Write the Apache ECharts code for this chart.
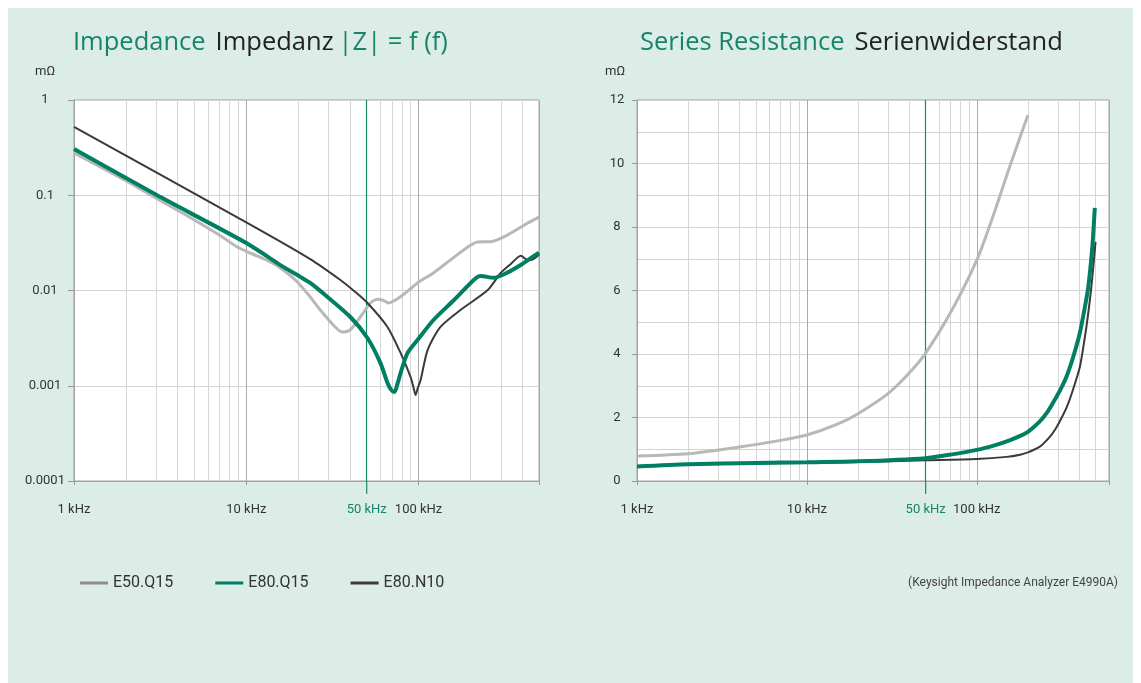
<!DOCTYPE html>
<html><head><meta charset="utf-8">
<script src="https://cdn.jsdelivr.net/npm/echarts@6/dist/echarts.min.js"></script>
<style>
html,body{margin:0;padding:0;background:#fff;}
#bg{position:absolute;left:8px;top:8px;width:1125px;height:675px;background:#dcece6;}
#chart{position:absolute;left:0;top:0;width:1141px;height:683px;}
</style></head><body>
<div id="bg"></div><div id="chart"></div>
<script>
// ---- data: [frequency kHz, value mΩ] ----
const seriesNames = ['E50.Q15', 'E80.Q15', 'E80.N10'];

const impE50Q15 = [[1,0.278],[2,0.142],[3,0.093],[5,0.055],[7,0.038],[8.87,0.0286],[10,0.0258],[11.6,0.023],[13.8,0.0199],[16.4,0.0164],[19.8,0.0123],[23.5,0.00855],[26.9,0.00624],[32,0.00434],[36,0.00367],[40,0.00385],[46,0.0053],[52.6,0.0074],[57.8,0.0081],[62,0.0079],[67,0.0074],[78.6,0.0086],[98.6,0.012],[122,0.0153],[153,0.0209],[193,0.0286],[220,0.0323],[262,0.0325],[329,0.0383],[430,0.0511],[500,0.059]];
const impE80Q15 = [[1,0.306],[3,0.101],[10,0.0315],[16.4,0.0177],[20.6,0.0139],[23.5,0.012],[29.6,0.00855],[40.2,0.00527],[50.5,0.00317],[60.1,0.00173],[66,0.00107],[69.5,0.0009],[72.5,0.00086],[75.5,0.00105],[78.6,0.00136],[86.3,0.00221],[98.6,0.00302],[122,0.0049],[160,0.0079],[209,0.0129],[229,0.0142],[273,0.0136],[329,0.0155],[400,0.019],[450,0.022],[500,0.025]];
const impE80N10 = [[1,0.521],[10,0.052],[23.5,0.0214],[35.2,0.0129],[41.9,0.01],[50.5,0.0074],[66,0.00414],[78.6,0.00221],[89.8,0.00124],[94,0.00092],[96,0.0008],[99,0.00095],[102.8,0.00115],[112.8,0.00237],[134,0.00414],[175,0.00624],[252,0.0101],[300,0.0153],[343,0.019],[392,0.0232],[425,0.021],[448,0.0209],[500,0.0238]];

const resE50Q15 = [[1,0.79],[2,0.86],[4,1.07],[7,1.28],[10,1.45],[15,1.78],[20,2.12],[30,2.75],[40,3.4],[50,4.03],[70,5.3],[100,6.96],[124,8.31],[156,9.89],[200,11.53]];
const resE80Q15 = [[1,0.46],[2,0.53],[5,0.57],[10,0.59],[20,0.62],[50,0.72],[70,0.83],[100,0.98],[130,1.14],[156,1.28],[180,1.42],[200,1.55],[235,1.88],[260,2.17],[280,2.45],[310,2.87],[338,3.3],[370,3.92],[404,4.66],[430,5.4],[450,6.0],[465,6.65],[480,7.45],[495,8.6]];
const resE80N10 = [[1,0.47],[2,0.52],[5,0.55],[10,0.57],[20,0.6],[50,0.65],[100,0.69],[150,0.76],[180,0.83],[200,0.9],[220,1.0],[240,1.12],[269,1.39],[290,1.63],[308,1.88],[338,2.32],[367,2.85],[404,3.59],[430,4.44],[450,5.17],[470,6.0],[485,6.75],[500,7.53]];

// ---- axes / ticks ----
const xTickValues = [1, 10, 100];
const xTickLabels = ['1 kHz', '10 kHz', '100 kHz'];
const markerFreq = 50;
const markerLabel = '50 kHz';
const minorFreqsLeft = [2,3,4,5,6,7,8,9,20,30,40,60,70,80,90,200,300,400];
const minorFreqsRight = [2,3,4,5,6,7,8,9,20,30,40,60,70,80,90,200,300,400,500];
const impTickValues = [0.0001, 0.001, 0.01, 0.1, 1];
const impTickLabels = ['0.0001', '0.001', '0.01', '0.1', '1'];
const resTickValues = [0, 2, 4, 6, 8, 10, 12];
const resTickLabels = ['0', '2', '4', '6', '8', '10', '12'];

const titleLeft = ['Impedance', 'Impedanz', '|Z| = f (f)'];
const titleRight = ['Series Resistance', 'Serienwiderstand'];
const unitLabel = 'mΩ';
const sourceNote = '(Keysight Impedance Analyzer E4990A)';

// ---- style ----
const GREEN = '#007f62', TGREEN = '#16856a', GREY = '#b8b8b8', DARK = '#3a3a3a';
const NARROW = 'Roboto, "Noto Sans", sans-serif';
const TFONT = '"Open Sans", Roboto, sans-serif';

function pick(vals, labels) {
  return function (v) {
    for (let i = 0; i < vals.length; i++) {
      if (Math.abs(vals[i] - v) <= Math.abs(vals[i]) * 1e-6 + 1e-12) return labels[i];
    }
    return '';
  };
}

const chart = echarts.init(document.getElementById('chart'), null, {renderer: 'canvas'});

const grids = [
  {left: 74, top: 100, width: 465, height: 381},
  {left: 637, top: 100, width: 472, height: 381}
];

function xAxisCfg(idx, max) {
  return {
    type: 'log', logBase: 10, gridIndex: idx, min: 1, max: max,
    axisLine: {show: true, lineStyle: {color: '#a3a3a3'}},
    axisTick: {show: true, length: 4, lineStyle: {color: '#999'}},
    axisLabel: {margin: 22, color: '#333', fontSize: 13, fontFamily: NARROW, formatter: pick(xTickValues, xTickLabels)},
    splitLine: {show: true, lineStyle: {color: '#a9a9a9', width: 1}},
    minorTick: {show: false}
  };
}

function gridLinesSeries(idx, freqs) {
  return {
    type: 'line', xAxisIndex: idx, yAxisIndex: idx, data: [], silent: true,
    markLine: {
      silent: true, z: 1, animation: false, symbol: ['none', 'none'],
      label: {show: false}, emphasis: {disabled: true},
      lineStyle: {color: '#d6d6d6', width: 1, type: 'solid'},
      data: freqs.map(function (f) { return {xAxis: f}; })
    }
  };
}

function markerSeries(idx) {
  return {
    type: 'line', xAxisIndex: idx, yAxisIndex: idx, data: [], silent: true,
    markLine: {
      silent: true, z: 2, animation: false, symbol: ['none', 'none'],
      emphasis: {disabled: true},
      lineStyle: {color: '#1b8a6c', width: 1.2, type: 'solid'},
      label: {
        show: true, position: 'start', distance: 0,
        formatter: '{bar|}\n{t|' + markerLabel + '}',
        rich: {
          bar: {width: 1.2, height: 13, backgroundColor: '#1b8a6c'},
          t: {color: TGREEN, fontSize: 13, fontFamily: NARROW, lineHeight: 31}
        }
      },
      data: [{xAxis: markerFreq}]
    }
  };
}

function curve(name, data, idx, color, width) {
  return {
    name: name, type: 'line', xAxisIndex: idx, yAxisIndex: idx, data: data,
    symbol: 'none', smooth: 0.25, z: 3, silent: true,
    lineStyle: {color: color, width: width}, itemStyle: {color: color}
  };
}

function titleStyle() {
  return {rich: {
    g: {color: TGREEN, fontSize: 25.5, fontWeight: 'normal', fontFamily: TFONT},
    d: {color: '#222', fontSize: 25.5, fontWeight: 'normal', fontFamily: TFONT}}};
}

const option = {
  animation: false,
  title: [
    {left: 73, top: 30, padding: 0,
     text: '{g|' + titleLeft[0] + '}  {d|' + titleLeft[1] + '} {g|' + titleLeft[2] + '}',
     textStyle: titleStyle()},
    {left: 640, top: 30, padding: 0,
     text: '{g|' + titleRight[0] + '}  {d|' + titleRight[1] + '}',
     textStyle: titleStyle()},
    {right: 23, top: 577, padding: 0, text: sourceNote,
     textStyle: {color: '#444', fontSize: 12, fontWeight: 'normal', fontFamily: NARROW}}
  ],
  legend: {
    left: 75, top: 570, itemWidth: 28, itemHeight: 3, itemGap: 42, icon: 'rect',
    textStyle: {color: '#333', fontSize: 16, fontFamily: NARROW},
    data: [
      {name: seriesNames[0], icon: 'rect', itemStyle: {color: '#8f8f8f'}},
      {name: seriesNames[1], icon: 'rect', itemStyle: {color: GREEN}},
      {name: seriesNames[2], icon: 'rect', itemStyle: {color: DARK}}
    ]
  },
  grid: grids.map(function (g) {
    return Object.assign({show: true, backgroundColor: '#fff', borderColor: '#a3a3a3', borderWidth: 1, containLabel: false}, g);
  }),
  xAxis: [xAxisCfg(0, 500), xAxisCfg(1, 600)],
  yAxis: [
    {type: 'log', logBase: 10, gridIndex: 0, min: 0.0001, max: 1,
     name: unitLabel, nameLocation: 'end', nameGap: 22,
     nameTextStyle: {color: '#333', fontSize: 13, fontFamily: NARROW, align: 'center', padding: [0, 58, 0, 0]},
     axisLine: {show: true, lineStyle: {color: '#a3a3a3'}},
     axisTick: {show: true, length: 6, lineStyle: {color: '#999'}},
     axisLabel: {margin: 29, align: 'center', color: '#333', fontSize: 13, fontFamily: NARROW, formatter: pick(impTickValues, impTickLabels)},
     splitLine: {show: true, lineStyle: {color: '#d3d3d3'}}},
    {type: 'value', gridIndex: 1, min: 0, max: 12, interval: 2,
     name: unitLabel, nameLocation: 'end', nameGap: 22,
     nameTextStyle: {color: '#333', fontSize: 13, fontFamily: NARROW, align: 'center', padding: [0, 44, 0, 0]},
     axisLine: {show: true, lineStyle: {color: '#a3a3a3'}},
     axisTick: {show: true, length: 5, lineStyle: {color: '#999'}},
     axisLabel: {margin: 20, align: 'center', color: '#333', fontSize: 13, fontFamily: NARROW, formatter: pick(resTickValues, resTickLabels)},
     splitLine: {show: true, lineStyle: {color: '#d3d3d3'}},
     minorTick: {show: false, splitNumber: 2},
     minorSplitLine: {show: true, lineStyle: {color: '#d3d3d3'}}}
  ],
  series: [
    gridLinesSeries(0, minorFreqsLeft),
    gridLinesSeries(1, minorFreqsRight),
    markerSeries(0),
    markerSeries(1),
    curve(seriesNames[0], impE50Q15, 0, GREY, 3),
    curve(seriesNames[2], impE80N10, 0, DARK, 2),
    curve(seriesNames[1], impE80Q15, 0, GREEN, 4),
    curve(seriesNames[0], resE50Q15, 1, GREY, 3),
    curve(seriesNames[2], resE80N10, 1, DARK, 2),
    curve(seriesNames[1], resE80Q15, 1, GREEN, 4)
  ]
};
chart.setOption(option);
</script>
</body></html>
